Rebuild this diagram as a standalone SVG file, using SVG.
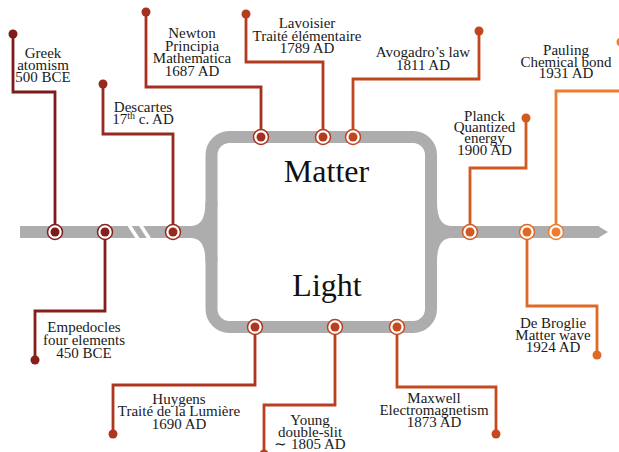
<svg xmlns="http://www.w3.org/2000/svg" width="619" height="452" viewBox="0 0 619 452">
<style>
.track{fill:none;stroke:#adadad;stroke-width:12}
.brk{stroke:#fff;stroke-width:3.5}
.c{fill:none;stroke-width:2.8;stroke-linejoin:miter}
.lbl{font-family:"Liberation Serif","Times New Roman",serif;font-size:15px;fill:#1a1a1a;text-anchor:middle}
.big{font-family:"Liberation Serif","Times New Roman",serif;font-size:32px;fill:#111;text-anchor:middle}
.ring{fill:#fff;stroke-width:1.5}
</style>
<rect width="619" height="452" fill="#fff"/>
<g id="track">
<path class="track" d="M20,232 H200"/>
<path class="track" d="M445,232 H599"/>
<polygon points="598,226 608,232 598,238" fill="#adadad"/>
<path class="track" d="M229.5,137 H413 A18,18 0 0 1 431,155 V309 A18,18 0 0 1 413,327 H229.5 A18,18 0 0 1 211.5,309 V155 A18,18 0 0 1 229.5,137 Z"/>
<path class="track" d="M211.5,202 Q211.5,232 190,232"/>
<path class="track" d="M211.5,262 Q211.5,232 190,232"/>
<path class="track" d="M431,202 Q431,232 452,232"/>
<path class="track" d="M431,262 Q431,232 452,232"/>
<line class="brk" x1="129" y1="225" x2="138" y2="239"/>
<line class="brk" x1="140.5" y1="225" x2="149.5" y2="239"/>
</g>
<g id="titles">
<text class="big" x="326.5" y="182">Matter</text>
<text class="big" x="327" y="296">Light</text>
</g>
<g id="connectors">
<path class="c" stroke="#7d1b1b" d="M13,34 V92 H55 V232"/>
<path class="c" stroke="#861f1a" d="M105,232 V311 H35 V360"/>
<path class="c" stroke="#962a1e" d="M103,84 V134 H173 V232"/>
<path class="c" stroke="#a5301f" d="M146,12 V87 H261 V137"/>
<path class="c" stroke="#b33b1f" d="M246,14 V62 H323 V137"/>
<path class="c" stroke="#c0461f" d="M479,31 V79 H353 V137"/>
<path class="c" stroke="#ae3620" d="M255,327 V385 H113 V434"/>
<path class="c" stroke="#b93f20" d="M335,327 V405 H264 V452"/>
<path class="c" stroke="#c54a20" d="M397,327 V387 H496 V434"/>
<path class="c" stroke="#d05a22" d="M526,118 V168 H470 V232"/>
<path class="c" stroke="#df6a26" d="M527,232 V306 H597 V355"/>
<path class="c" stroke="#ec7c2e" d="M621,42 V91 H556 V232"/>
</g>
<g id="greek">
<circle cx="13" cy="34" r="4.5" fill="#7d1b1b"/>
<circle class="ring" cx="55" cy="232" r="7.5" stroke="#7d1b1b"/>
<circle cx="55" cy="232" r="4.5" fill="#7d1b1b"/>
<text class="lbl" x="43" y="58">Greek</text>
<text class="lbl" x="43" y="70">atomism</text>
<text class="lbl" x="43" y="82">500 BCE</text>
</g>
<g id="empedocles">
<circle cx="35" cy="360" r="4.5" fill="#861f1a"/>
<circle class="ring" cx="105" cy="232" r="7.5" stroke="#861f1a"/>
<circle cx="105" cy="232" r="4.5" fill="#861f1a"/>
<text class="lbl" x="84" y="332">Empedocles</text>
<text class="lbl" x="84" y="345">four elements</text>
<text class="lbl" x="84" y="358">450 BCE</text>
</g>
<g id="descartes">
<circle cx="103" cy="84" r="4.5" fill="#962a1e"/>
<circle class="ring" cx="173" cy="232" r="7.5" stroke="#962a1e"/>
<circle cx="173" cy="232" r="4.5" fill="#962a1e"/>
<text class="lbl" x="143" y="112">Descartes</text>
<text class="lbl" x="143" y="124">17<tspan font-size="10" dy="-5">th</tspan><tspan dy="5"> c. AD</tspan></text>
</g>
<g id="newton">
<circle cx="146" cy="12" r="4.5" fill="#a5301f"/>
<circle class="ring" cx="261" cy="137" r="7.5" stroke="#a5301f"/>
<circle cx="261" cy="137" r="4.5" fill="#a5301f"/>
<text class="lbl" x="192" y="38">Newton</text>
<text class="lbl" x="192" y="50.5">Principia</text>
<text class="lbl" x="192" y="63">Mathematica</text>
<text class="lbl" x="192" y="75.5">1687 AD</text>
</g>
<g id="lavoisier">
<circle cx="246" cy="14" r="4.5" fill="#b33b1f"/>
<circle class="ring" cx="323" cy="137" r="7.5" stroke="#b33b1f"/>
<circle cx="323" cy="137" r="4.5" fill="#b33b1f"/>
<text class="lbl" x="307" y="28">Lavoisier</text>
<text class="lbl" x="307" y="41">Traité élémentaire</text>
<text class="lbl" x="307" y="53">1789 AD</text>
</g>
<g id="avogadro">
<circle cx="479" cy="31" r="4.5" fill="#c0461f"/>
<circle class="ring" cx="353" cy="137" r="7.5" stroke="#c0461f"/>
<circle cx="353" cy="137" r="4.5" fill="#c0461f"/>
<text class="lbl" x="423" y="57">Avogadro’s law</text>
<text class="lbl" x="423" y="70">1811 AD</text>
</g>
<g id="huygens">
<circle cx="113" cy="434" r="4.5" fill="#ae3620"/>
<circle class="ring" cx="255" cy="327" r="7.5" stroke="#ae3620"/>
<circle cx="255" cy="327" r="4.5" fill="#ae3620"/>
<text class="lbl" x="179" y="403.5">Huygens</text>
<text class="lbl" x="179" y="416">Traité de la Lumière</text>
<text class="lbl" x="179" y="428.5">1690 AD</text>
</g>
<g id="young">
<circle cx="264" cy="454" r="4.5" fill="#b93f20"/>
<circle class="ring" cx="335" cy="327" r="7.5" stroke="#b93f20"/>
<circle cx="335" cy="327" r="4.5" fill="#b93f20"/>
<text class="lbl" x="310" y="425">Young</text>
<text class="lbl" x="310" y="437">double-slit</text>
<text class="lbl" x="310" y="449">∼ 1805 AD</text>
</g>
<g id="maxwell">
<circle cx="496" cy="434" r="4.5" fill="#c54a20"/>
<circle class="ring" cx="397" cy="327" r="7.5" stroke="#c54a20"/>
<circle cx="397" cy="327" r="4.5" fill="#c54a20"/>
<text class="lbl" x="434" y="403">Maxwell</text>
<text class="lbl" x="434" y="415">Electromagnetism</text>
<text class="lbl" x="434" y="427">1873 AD</text>
</g>
<g id="planck">
<circle cx="526" cy="118" r="4.5" fill="#d05a22"/>
<circle class="ring" cx="470" cy="232" r="7.5" stroke="#d05a22"/>
<circle cx="470" cy="232" r="4.5" fill="#d05a22"/>
<text class="lbl" x="484.5" y="121">Planck</text>
<text class="lbl" x="484.5" y="132">Quantized</text>
<text class="lbl" x="484.5" y="143">energy</text>
<text class="lbl" x="484.5" y="154.5">1900 AD</text>
</g>
<g id="debroglie">
<circle cx="597" cy="355" r="4.5" fill="#df6a26"/>
<circle class="ring" cx="527" cy="232" r="7.5" stroke="#df6a26"/>
<circle cx="527" cy="232" r="4.5" fill="#df6a26"/>
<text class="lbl" x="553" y="328">De Broglie</text>
<text class="lbl" x="553" y="340">Matter wave</text>
<text class="lbl" x="553" y="352">1924 AD</text>
</g>
<g id="pauling">
<circle cx="621" cy="42" r="4.5" fill="#ec7c2e"/>
<circle class="ring" cx="556" cy="232" r="7.5" stroke="#ec7c2e"/>
<circle cx="556" cy="232" r="4.5" fill="#ec7c2e"/>
<text class="lbl" x="566" y="55">Pauling</text>
<text class="lbl" x="566" y="66.5">Chemical bond</text>
<text class="lbl" x="566" y="78">1931 AD</text>
</g>
</svg>
